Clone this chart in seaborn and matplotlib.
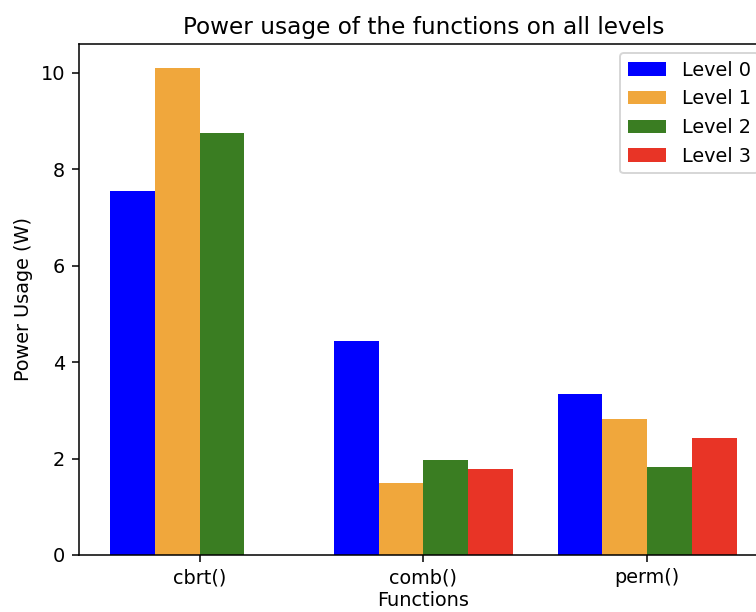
import matplotlib
matplotlib.use("Agg")
import matplotlib.pyplot as plt
import numpy as np
import pandas as pd
import seaborn as sns

# Power usage (W) per function at each optimisation level
functions = ["cbrt()", "comb()", "perm()"]
levels = ["Level 0", "Level 1", "Level 2", "Level 3"]
level0 = [7.55, 4.43, 3.34]
level1 = [10.10, 1.50, 2.82]
level2 = [8.75, 1.96, 1.82]
level3 = [np.nan, 1.79, 2.42]
colors = ["#0000ff", "#f0a73c", "#3a7d22", "#e83426"]

rows = []
for lvl, vals in zip(levels, [level0, level1, level2, level3]):
    for fn, v in zip(functions, vals):
        rows.append({"Functions": fn, "Level": lvl, "Power": v})
df = pd.DataFrame(rows)

W, H, DPI = 756, 612, 138.5
fig = plt.figure(figsize=(W / DPI, H / DPI), dpi=DPI)
ax = fig.add_axes([78.7 / W, (H - 555) / H, (768 - 78.7) / W, (555 - 43.5) / H])

sns.barplot(data=df, x="Functions", y="Power", hue="Level", hue_order=levels,
            order=functions, palette=colors, saturation=1, width=0.8,
            linewidth=0, edgecolor="none", errorbar=None, ax=ax)

ymax = np.nanmax(df["Power"].values)
ax.set_xlim(-0.4 - 0.14, 2.4 + 0.14)
ax.set_ylim(0, ymax * 1.05)
ax.set_yticks([0, 2, 4, 6, 8, 10])

ax.set_title("Power usage of the functions on all levels", pad=5)
ax.set_xlabel("Functions", labelpad=2)
ax.set_ylabel("Power Usage (W)")
ax.legend(loc="upper right")

fig.savefig("out.png", dpi=DPI)
